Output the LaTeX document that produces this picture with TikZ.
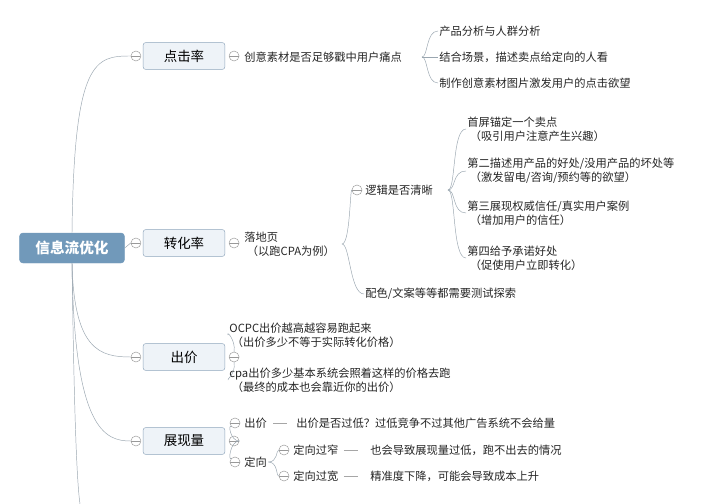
\documentclass[tikz,border=0pt]{standalone}
\usepackage{fontspec}
\setmainfont{Noto Sans CJK SC}
\usetikzlibrary{positioning,calc}
\definecolor{rootfill}{HTML}{7199BA}
\definecolor{boxfill}{HTML}{EEF3F8}
\definecolor{boxline}{HTML}{8FA6BC}
\definecolor{linkgray}{HTML}{9AA6B0}

\tikzset{
  rootbox/.style={draw=rootfill,fill=rootfill,rounded corners=3pt,text=white,font=\fontsize{12.5}{14}\selectfont\bfseries,minimum width=3.15cm,minimum height=0.9cm,inner sep=0pt},
  topicbox/.style={draw=boxline,fill=boxfill,rounded corners=2pt,font=\fontsize{11.5}{13}\selectfont,minimum width=2.45cm,minimum height=0.8cm,inner sep=0pt},
  leaf/.style={anchor=west,font=\fontsize{9.6}{12}\selectfont,inner sep=1pt,text=black!85},
  fold/.style={circle,draw=gray!80,fill=white,minimum size=0.3cm,inner sep=0pt,
    path picture={\draw[gray!80] ($(path picture bounding box.west)+(0.06,0)$) -- ($(path picture bounding box.east)+(-0.06,0)$);}},
  link/.style={draw=linkgray,thin},
  dashlink/.style={draw=gray!70,thin}
}

\begin{document}
\begin{tikzpicture}[x=0.03cm,y=-0.03cm]
  \fill[white] (0,0) rectangle (714,504);
  \useasboundingbox (0,0) rectangle (714,504);

  % root and main topics
  \node[rootbox] (root) at (72,248) {信息流优化};
  \node[topicbox] (click) at (184,56) {点击率};
  \node[topicbox] (conv) at (184,243) {转化率};
  \node[topicbox] (bid) at (184,357) {出价};
  \node[topicbox] (show) at (184,441) {展现量};

  \foreach \t in {click,conv,bid,show} {
    \node[fold] (\t L) at ($(\t.west)+(-7,0)$) {};
    \node[fold] (\t R) at ($(\t.east)+(9,0)$) {};
  }
  \draw[link] (root.north) .. controls (74,60) and (95,56) .. (clickL.west);
  \draw[link] (root.east) -- (convL.west);
  \draw[link] (root.south) .. controls (74,350) and (100,357) .. (bidL.west);
  \draw[link] (root.south) .. controls (74,430) and (105,441) .. (showL.west);
  \draw[link] (root.south) .. controls (73,330) and (75,470) .. (80,504);

  % 点击率
  \node[leaf] (c0) at (243,57) {创意素材是否足够戳中用户痛点};
  \node[leaf] (c1) at (438,31) {产品分析与人群分析};
  \node[leaf] (c2) at (438,57) {结合场景，描述卖点给定向的人看};
  \node[leaf] (c3) at (438,83) {制作创意素材图片激发用户的点击欲望};
  \coordinate (cb) at (422,57);
  \draw[link] (cb) .. controls (428,57) and (426,31) .. (c1.west);
  \draw[link] (cb) -- (c2.west);
  \draw[link] (cb) .. controls (428,57) and (426,83) .. (c3.west);

  % 转化率
  \node[leaf,align=left] (v0) at (243,244) {落地页\\\ （以跑CPA为例）};
  \node[fold] (logicF) at (357,190) {};
  \node[leaf] (logic) at (364,190) {逻辑是否清晰};
  \node[leaf] (color) at (364,294) {配色/文案等等都需要测试探索};
  \coordinate (vb) at (342,244);
  \draw[link] (vb) .. controls (350,244) and (350,190) .. (logicF.west);
  \draw[link] (vb) .. controls (350,244) and (350,294) .. (color.west);
  \node[leaf,align=left] (l1) at (466,129) {首屏锚定一个卖点\\\ （吸引用户注意产生兴趣）};
  \node[leaf,align=left] (l2) at (466,171) {第二描述用产品的好处/没用产品的坏处等\\\ （激发留电/咨询/预约等的欲望）};
  \node[leaf,align=left] (l3) at (466,213) {第三展现权威信任/真实用户案例\\\ （增加用户的信任）};
  \node[leaf,align=left] (l4) at (466,258) {第四给予承诺好处\\\ （促使用户立即转化）};
  \coordinate (lb) at (448,190);
  \foreach \n in {l1,l2,l3,l4}
    \draw[link] (lb) .. controls (456,190) and (452,0|-\n.west) .. (\n.west);

  % 出价
  \node[leaf,align=left] (b1) at (228,335) {OCPC出价越高越容易跑起来\\\ （出价多少不等于实际转化价格）};
  \node[leaf,align=left] (b2) at (228,380) {cpa出价多少基本系统会照着这样的价格去跑\\\ （最终的成本也会靠近你的出价）};
  \draw[link] (bidR.north) .. controls (236,340) and (226,330) .. (b1.west);
  \draw[link] (bidR.south) .. controls (236,374) and (226,380) .. (b2.west);

  % 展现量
  \node[fold] (s1F) at (235,423) {};
  \node[leaf] (s1) at (243,423) {出价};
  \node[leaf] (s1t) at (295,423) {出价是否过低？过低竞争不过其他广告系统不会给量};
  \draw[dashlink] (s1.east) ++(5,0) -- ++(14,0);
  \node[fold] (s2F) at (235,462) {};
  \node[leaf] (s2) at (243,462) {定向};
  \draw[link] (showR.east) .. controls (230,441) and (228,423) .. (s1F.south west);
  \draw[link] (showR.east) .. controls (230,441) and (228,462) .. (s2F.north west);
  \node[fold] (n1F) at (284,450) {};
  \node[leaf] (n1) at (292,450) {定向过窄};
  \node[leaf] (n1t) at (369,450) {也会导致展现量过低，跑不出去的情况};
  \node[fold] (n2F) at (284,476) {};
  \node[leaf] (n2) at (292,476) {定向过宽};
  \node[leaf] (n2t) at (369,476) {精准度下降，可能会导致成本上升};
  \draw[link] (s2.east) .. controls (278,462) and (276,450) .. (n1F.west);
  \draw[link] (s2.east) .. controls (278,462) and (276,476) .. (n2F.west);
  \draw[dashlink] (n1.east) ++(4,0) -- ++(14,0);
  \draw[dashlink] (n2.east) ++(4,0) -- ++(14,0);
\end{tikzpicture}
\end{document}
